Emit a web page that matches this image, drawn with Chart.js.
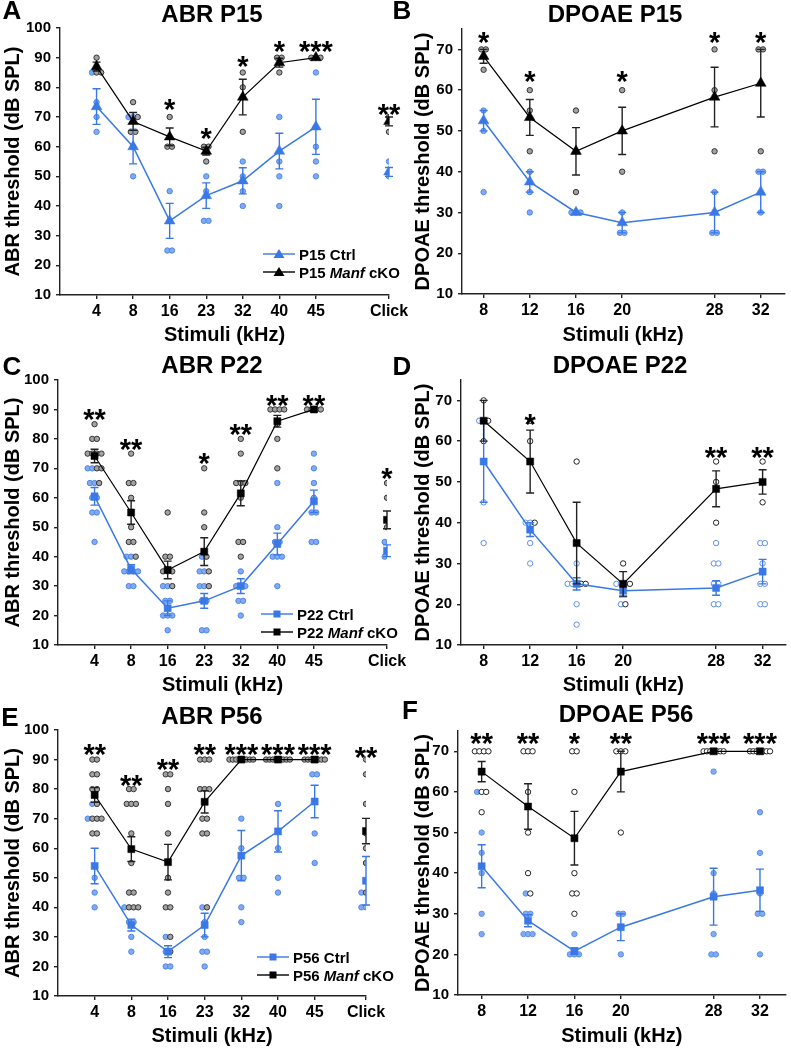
<!DOCTYPE html>
<html>
<head>
<meta charset="utf-8">
<script src="https://cdn.jsdelivr.net/npm/chart.js@4.4.1/dist/chart.umd.min.js"></script>
<style>
  body { margin: 0; background: #fff; width: 791px; height: 1048px; position: relative; overflow: hidden;
         font-family: "Liberation Sans", Arial, sans-serif; }
  canvas { position: absolute; }
  .txt { position: absolute; font-weight: bold; color: #000; white-space: nowrap; line-height: 1;
         transform: translate(-50%, -50%); }
  .letter { font-size: 26px; }
  .ttl { font-size: 24px; }
  .leg { position: absolute; display: flex; align-items: center; height: 18px; font-size: 15px;
         font-weight: bold; white-space: nowrap; }
  .leg svg { margin-right: 4px; }
</style>
</head>
<body>
<script>
const FONT = '"Liberation Sans", Arial, sans-serif';
const BLUE = '#3a78e6';

// ---- x categories ----
const abrFreqs = ['4', '8', '16', '23', '32', '40', '45', 'Click'];
const abrPos = [0, 1, 2, 3, 4, 5, 6, 8];
const abrPosP56 = [0, 1, 2, 3, 4, 5, 6, 7.4];
const dpoaeFreqs = ['8', '12', '16', '20', '28', '32'];
const dpoaePos = [8, 12, 16, 20, 28, 32];

// ---- A: ABR P15 ----
const aCtrlMean = [73.5, 60, 35, 43.5, 48.5, 58.5, 66.7, 51.5];
const aCtrlSem = [6, 5.8, 5.9, 4.3, 4.4, 6, 9.3, 1.5];
const aKoMean = [87, 68.5, 63.3, 58.5, 76.7, 88.3, 90, 68.5];
const aKoSem = [1.5, 3, 3, 1.3, 6, 1.5, 0, 1.5];
const aCtrlDots = [[85, 75, 70, 65], [70, 70, 60, 50], [45, 35, 25, 25], [50, 45, 35, 35],
  [55, 50, 45, 40], [70, 55, 50, 40], [85, 60, 55, 50], [55, 50]];
const aKoDots = [[90, 85, 85], [75, 70, 65, 65], [70, 60, 60], [60, 60, 55],
  [85, 80, 65], [90, 90, 85], [90, 90, 90], [70, 65]];
const aStars = ['', '', '*', '*', '*', '*', '***', '**'];
const aStarLevel = [0, 0, 74.7, 65.1, 89.3, 94.4, 94.4, 73];

// ---- B: DPOAE P15 ----
const bCtrlMean = [52.5, 37.5, 30, 27.5, 30, 35];
const bCtrlSem = [2.5, 2.5, 0, 2.5, 5, 5];
const bKoMean = [68.3, 53.3, 45, 50, 58.3, 61.7];
const bKoSem = [1.7, 4.4, 5.8, 5.8, 7.3, 8.3];
const bCtrlDots = [[55, 50, 35], [40, 35, 30], [30, 30, 30], [30, 25, 25], [35, 25, 25], [40, 40, 30]];
const bKoDots = [[70, 70, 65], [60, 55, 45], [55, 45, 35], [60, 50, 40], [70, 60, 45], [70, 70, 45]];
const bStars = ['*', '*', '', '*', '*', '*'];
const bStarLevel = [73.4, 63.6, 0, 63.6, 73.4, 73.4];

// ---- C: ABR P22 ----
const cCtrlMean = [60.5, 35.8, 22.5, 25, 30, 44.3, 58.8, 42];
const cCtrlSem = [3, 1.5, 2.5, 2.5, 2.5, 3.7, 3.8, 2];
const cKoMean = [74.2, 55, 35.5, 41.7, 61.5, 86, 90, 52.5];
const cKoSem = [2.3, 4, 3, 4.7, 4.2, 2, 0, 3];
const cCtrlDots = [[70, 70, 65, 65, 60, 60, 55, 55, 45], [40, 40, 35, 35, 35, 35, 30, 30],
  [30, 30, 25, 25, 20, 20, 20, 15], [40, 35, 35, 30, 30, 25, 25, 15, 15],
  [35, 30, 30, 30, 25, 25, 20], [65, 50, 45, 45, 40, 40, 40, 30],
  [75, 70, 65, 60, 55, 55, 45, 45], [45, 45, 40, 40]];
const cKoDots = [[85, 80, 80, 75, 75, 75, 75, 70, 70, 65], [75, 65, 65, 60, 50, 45, 45, 40],
  [55, 40, 40, 35, 35, 35, 30], [70, 55, 50, 40, 35, 30],
  [80, 75, 65, 65, 65, 60, 45, 45, 40], [90, 90, 90, 90, 85, 80, 70],
  [90, 90, 90, 90], [65, 60, 50]];
const cStars = ['**', '**', '', '*', '**', '**', '**', '*'];
const cStarLevel = [88.7, 78.5, 0, 74, 83.6, 93.4, 93.4, 68.9];

// ---- D: DPOAE P22 ----
const dCtrlMean = [55, 38.3, 25, 23.3, 24, 28];
const dCtrlSem = [10, 1.7, 1.5, 1.5, 1.8, 3];
const dKoMean = [65, 55, 35, 25, 48.3, 50];
const dKoSem = [5, 7.7, 10, 3, 4.4, 3];
const dCtrlDots = [[65, 65, 45, 35], [40, 40, 35, 30], [30, 25, 25, 25, 20, 15], [25, 25, 25, 20],
  [35, 30, 30, 25, 25, 20, 20], [35, 35, 30, 25, 25, 20, 20]];
const dKoDots = [[70, 65, 60], [65, 60, 40], [55, 25, 25], [30, 25, 20], [55, 50, 40], [55, 50, 45]];
const dStars = ['', '*', '', '', '**', '**'];
const dStarLevel = [0, 65.8, 0, 0, 57.6, 57.6];

// ---- E: ABR P56 ----
const eCtrlMean = [54, 34, 25, 34, 57.5, 65.7, 75.8, 49];
const eCtrlSem = [6, 2, 2, 4, 8.5, 7, 5.5, 8.2];
const eKoMean = [78, 59.7, 55.3, 75.7, 90, 90, 90, 65.8];
const eKoSem = [2.5, 4.2, 6, 3.8, 0, 0, 0, 4.3];
const eCtrlDots = [[75, 70, 50, 45, 40], [40, 35, 35, 30, 25], [30, 25, 20, 20],
  [40, 35, 30, 25, 25, 20], [70, 60, 50, 50, 40, 35], [75, 60, 50, 45],
  [85, 85, 65, 55], [45, 40, 40, 40]];
const eKoDots = [[90, 90, 85, 85, 80, 80, 75, 70, 70, 70, 65, 65],
  [80, 80, 75, 75, 75, 65, 55, 45, 45, 40, 40, 40],
  [85, 85, 80, 75, 65, 50, 45, 40, 40, 30, 25],
  [90, 90, 90, 80, 80, 80, 70, 70, 65, 65, 40],
  [90, 90, 90, 90, 90, 90, 90, 90], [90, 90, 90, 90, 90, 90, 90, 90],
  [90, 90, 90, 90, 90, 90, 90], [90, 85, 75, 65, 60, 55, 45, 45]];
const eStars = ['**', '**', '**', '**', '***', '***', '***', '**'];
const eStarLevel = [93.8, 83.4, 88.7, 93.8, 93.8, 93.8, 93.8, 93];

// ---- F: DPOAE P56 ----
const fCtrlMean = [41.7, 28.3, 20.8, 26.7, 34.2, 35.8];
const fCtrlSem = [5.3, 1.5, 0.8, 3.3, 7, 5.2];
const fKoMean = [65, 56.4, 48.6, 65, 70, 70];
const fKoSem = [2.5, 5.6, 6.6, 5, 0, 0];
const fCtrlDots = [[60, 50, 45, 40, 30, 25], [35, 30, 30, 25, 25, 25], [25, 20, 20, 20],
  [30, 30, 20], [65, 40, 35, 25, 20, 20], [55, 45, 35, 30, 30, 20]];
const fKoDots = [[70, 70, 70, 70, 60, 60, 55], [70, 70, 70, 60, 50, 40, 35],
  [70, 70, 60, 40, 35, 35, 30], [70, 70, 70, 50],
  [70, 70, 70, 70, 70, 70, 70], [70, 70, 70, 70, 70, 70, 70]];
const fStars = ['**', '**', '*', '**', '***', '***'];
const fStarLevel = [73.6, 73.6, 73.6, 73.6, 73.6, 73.6];

// spread equal values side by side around each category position
function swarm(pos, ctrl, ko, pxPerUnit) {
  const c = [], k = [];
  pos.forEach((x0, i) => {
    const groups = {};
    ctrl[i].forEach(v => (groups[v] = groups[v] || []).push(c));
    ko[i].forEach(v => (groups[v] = groups[v] || []).push(k));
    Object.keys(groups).forEach(v => {
      const list = groups[v];
      const gap = (list.length >= 6 ? 3.4 : 4.6) / pxPerUnit;
      list.forEach((arr, j) => arr.push({ x: x0 + (j - (list.length - 1) / 2) * gap, y: +v }));
    });
  });
  return [c, k];
}

const errorBars = {
  id: 'errorBars',
  beforeDatasetDraw(chart, args) {
    const ds = chart.data.datasets[args.index];
    if (!ds.errors) return;
    const xs = chart.scales.x, ys = chart.scales.y, ctx = chart.ctx;
    ctx.save();
    ctx.strokeStyle = ds.errColor;
    ctx.lineWidth = 1.4;
    ds.data.forEach((p, i) => {
      const e = ds.errors[i];
      if (!e) return;
      const px = xs.getPixelForValue(p.x);
      const top = ys.getPixelForValue(p.y + e), bot = ys.getPixelForValue(p.y - e);
      ctx.beginPath();
      ctx.moveTo(px, top); ctx.lineTo(px, bot);
      ctx.moveTo(px - 4, top); ctx.lineTo(px + 4, top);
      ctx.moveTo(px - 4, bot); ctx.lineTo(px + 4, bot);
      ctx.stroke();
    });
    ctx.restore();
  }
};

function addText(cls, html, x, y) {
  const d = document.createElement('div');
  d.className = 'txt ' + cls;
  d.style.left = x + 'px';
  d.style.top = y + 'px';
  d.innerHTML = html;
  document.body.appendChild(d);
}

function addLegend(x, y, marker, rows) {
  rows.forEach((r, i) => {
    const d = document.createElement('div');
    d.className = 'leg';
    d.style.left = x + 'px';
    d.style.top = (y + i * 18 - 9) + 'px';
    const m = marker === 'triangle'
      ? `<polygon points="16,2 21.5,11 10.5,11" fill="${r.color}"/>`
      : `<rect x="12.5" y="3.5" width="7" height="7" fill="${r.color}"/>`;
    d.innerHTML = `<svg width="32" height="14"><line x1="0" y1="7" x2="32" y2="7" stroke="${r.color}" stroke-width="1.4"/>${m}</svg><span>${r.text}</span>`;
    document.body.appendChild(d);
  });
}

function panel(p) {
  const { box, area } = p;
  const cv = document.createElement('canvas');
  cv.width = box.w; cv.height = box.h;
  cv.style.left = box.left + 'px'; cv.style.top = box.top + 'px';
  document.body.appendChild(cv);

  const pxPerUnit = (area.r - area.l) / (p.xMax - p.xMin);
  const [cPts, kPts] = swarm(p.pos, p.ctrlDots, p.koDots, pxPerUnit);
  const st = p.dotStyle;

  const meanLine = (mean, sem, color, errColor, width) => ({
    data: p.pos.map((x, i) => ({ x, y: mean[i] })),
    showLine: true,
    borderColor: color,
    borderWidth: width,
    segment: { borderColor: ctx => (ctx.p0DataIndex === p.breakAfter ? 'rgba(0,0,0,0)' : color) },
    pointStyle: p.marker,
    pointRadius: p.marker === 'triangle' ? 6.2 : 5,
    pointBackgroundColor: color,
    pointBorderColor: color,
    pointBorderWidth: 0.5,
    errors: sem,
    errColor,
    order: 0
  });

  const tickFont = size => ({ family: FONT, size, weight: 'bold' });

  const stars = {
    id: 'stars',
    afterDatasetsDraw(chart) {
      const ctx = chart.ctx, xs = chart.scales.x, ys = chart.scales.y;
      ctx.save();
      ctx.fillStyle = '#000';
      ctx.font = 'bold 29px ' + FONT;
      ctx.textAlign = 'center';
      ctx.textBaseline = 'alphabetic';
      p.stars.forEach((s, i) => {
        if (!s) return;
        ctx.fillText(s, xs.getPixelForValue(p.pos[i]), ys.getPixelForValue(p.starLevel[i]) + 16);
      });
      ctx.restore();
    }
  };

  new Chart(cv, {
    type: 'scatter',
    data: {
      datasets: [
        meanLine(p.koMean, p.koSem, '#000', '#222', 1.2),
        meanLine(p.ctrlMean, p.ctrlSem, BLUE, BLUE, 1.5),
        { data: kPts, pointRadius: 2.7, pointBorderWidth: 1, pointBackgroundColor: st.koFill,
          pointBorderColor: st.koBorder, order: 2 },
        { data: cPts, pointRadius: 2.7, pointBorderWidth: 1, pointBackgroundColor: st.ctrlFill,
          pointBorderColor: st.ctrlBorder, order: 3 }
      ]
    },
    options: {
      responsive: false,
      animation: false,
      events: [],
      layout: { padding: { left: 0, top: area.t - box.top, right: box.left + box.w - area.r, bottom: 0 } },
      plugins: { legend: { display: false }, tooltip: { enabled: false } },
      scales: {
        x: {
          type: 'linear', min: p.xMin, max: p.xMax,
          afterBuildTicks: s => { s.ticks = p.pos.map(v => ({ value: v })); },
          afterFit: s => { s.height = box.top + box.h - area.b; s.paddingLeft = 0; s.paddingRight = 0; },
          ticks: { autoSkip: false, maxRotation: 0, padding: 3, color: '#000', font: tickFont(16),
                   callback: (v, i) => p.labels[i] },
          grid: { drawOnChartArea: false, tickLength: 4, color: '#222', lineWidth: 1.4 },
          border: { color: '#222', width: 1.4 },
          title: { display: true, text: 'Stimuli (kHz)', color: '#000', font: tickFont(20),
                   padding: { top: 0, bottom: 0 } }
        },
        y: {
          type: 'linear', min: 10, max: p.yMax,
          afterFit: s => { s.width = area.l - box.left; s.paddingTop = 0; s.paddingBottom = 0; },
          ticks: { stepSize: 10, includeBounds: false, padding: 5, color: '#000', font: tickFont(15) },
          grid: { drawOnChartArea: false, tickLength: 4, color: '#222', lineWidth: 1.4 },
          border: { color: '#222', width: 1.4 },
          title: { display: true, text: p.yTitle, color: '#000', font: tickFont(20),
                   padding: { top: p.yTitlePad, bottom: 0 } }
        }
      }
    },
    plugins: [errorBars, stars]
  });
}

const filled = { ctrlFill: '#80aaf1', ctrlBorder: '#4f86ea', koFill: '#a2a2a2', koBorder: '#333' };
const hollowBoth = { ctrlFill: '#fff', ctrlBorder: '#5b8ff0', koFill: '#fff', koBorder: '#222' };
const hollowKo = { ctrlFill: '#80aaf1', ctrlBorder: '#5b8ff0', koFill: '#fff', koBorder: '#222' };

const abrTitle = 'ABR threshold (dB SPL)';
const dpTitle = 'DPOAE threshold (dB SPL)';

panel({ box: { left: 0, top: 0, w: 410, h: 347 }, area: { l: 60, r: 389, t: 28, b: 295 },
  xMin: -1, xMax: 8, yMax: 100, pos: abrPos, labels: abrFreqs, breakAfter: 6, marker: 'triangle',
  ctrlMean: aCtrlMean, ctrlSem: aCtrlSem, koMean: aKoMean, koSem: aKoSem,
  ctrlDots: aCtrlDots, koDots: aKoDots, stars: aStars, starLevel: aStarLevel,
  dotStyle: filled, yTitle: abrTitle, yTitlePad: 1 });

panel({ box: { left: 395, top: 0, w: 396, h: 347 }, area: { l: 462, r: 791, t: 29, b: 294 },
  xMin: 6.13, xMax: 34.04, yMax: 75, pos: dpoaePos, labels: dpoaeFreqs, breakAfter: -1, marker: 'triangle',
  ctrlMean: bCtrlMean, ctrlSem: bCtrlSem, koMean: bKoMean, koSem: bKoSem,
  ctrlDots: bCtrlDots, koDots: bKoDots, stars: bStars, starLevel: bStarLevel,
  dotStyle: filled, yTitle: dpTitle, yTitlePad: 16 });

panel({ box: { left: 0, top: 347, w: 410, h: 350 }, area: { l: 58, r: 387, t: 380, b: 645 },
  xMin: -1, xMax: 8, yMax: 100, pos: abrPos, labels: abrFreqs, breakAfter: 6, marker: 'rect',
  ctrlMean: cCtrlMean, ctrlSem: cCtrlSem, koMean: cKoMean, koSem: cKoSem,
  ctrlDots: cCtrlDots, koDots: cKoDots, stars: cStars, starLevel: cStarLevel,
  dotStyle: filled, yTitle: abrTitle, yTitlePad: 1 });

panel({ box: { left: 395, top: 347, w: 396, h: 350 }, area: { l: 461, r: 791, t: 380, b: 645 },
  xMin: 6.05, xMax: 33.97, yMax: 75, pos: dpoaePos, labels: dpoaeFreqs, breakAfter: -1, marker: 'rect',
  ctrlMean: dCtrlMean, ctrlSem: dCtrlSem, koMean: dKoMean, koSem: dKoSem,
  ctrlDots: dCtrlDots, koDots: dKoDots, stars: dStars, starLevel: dStarLevel,
  dotStyle: hollowBoth, yTitle: dpTitle, yTitlePad: 16 });

panel({ box: { left: 0, top: 697, w: 410, h: 351 }, area: { l: 58, r: 366, t: 730, b: 996 },
  xMin: -1, xMax: 7.4, yMax: 100, pos: abrPosP56, labels: abrFreqs, breakAfter: 6, marker: 'rect',
  ctrlMean: eCtrlMean, ctrlSem: eCtrlSem, koMean: eKoMean, koSem: eKoSem,
  ctrlDots: eCtrlDots, koDots: eKoDots, stars: eStars, starLevel: eStarLevel,
  dotStyle: filled, yTitle: abrTitle, yTitlePad: 1 });

panel({ box: { left: 395, top: 697, w: 396, h: 351 }, area: { l: 458, r: 791, t: 731, b: 995 },
  xMin: 5.96, xMax: 34.2, yMax: 75, pos: dpoaePos, labels: dpoaeFreqs, breakAfter: -1, marker: 'rect',
  ctrlMean: fCtrlMean, ctrlSem: fCtrlSem, koMean: fKoMean, koSem: fKoSem,
  ctrlDots: fCtrlDots, koDots: fKoDots, stars: fStars, starLevel: fStarLevel,
  dotStyle: hollowKo, yTitle: dpTitle, yTitlePad: 16 });

// panel letters and titles
addText('letter', 'A', 12, 10);
addText('letter', 'B', 402, 10);
addText('letter', 'C', 12, 366);
addText('letter', 'D', 402, 366);
addText('letter', 'E', 10, 717);
addText('letter', 'F', 410, 710);
addText('ttl', 'ABR P15', 212, 14);
addText('ttl', 'DPOAE P15', 615, 14);
addText('ttl', 'ABR P22', 212, 365);
addText('ttl', 'DPOAE P22', 620, 365);
addText('ttl', 'ABR P56', 212, 716);
addText('ttl', 'DPOAE P56', 626, 714);

addLegend(263, 254, 'triangle', [{ color: BLUE, text: 'P15 Ctrl' }, { color: '#000', text: 'P15 <i>Manf</i> cKO' }]);
addLegend(261, 614, 'rect', [{ color: BLUE, text: 'P22 Ctrl' }, { color: '#000', text: 'P22 <i>Manf</i> cKO' }]);
addLegend(257, 957, 'rect', [{ color: BLUE, text: 'P56 Ctrl' }, { color: '#000', text: 'P56 <i>Manf</i> cKO' }]);
</script>
</body>
</html>
